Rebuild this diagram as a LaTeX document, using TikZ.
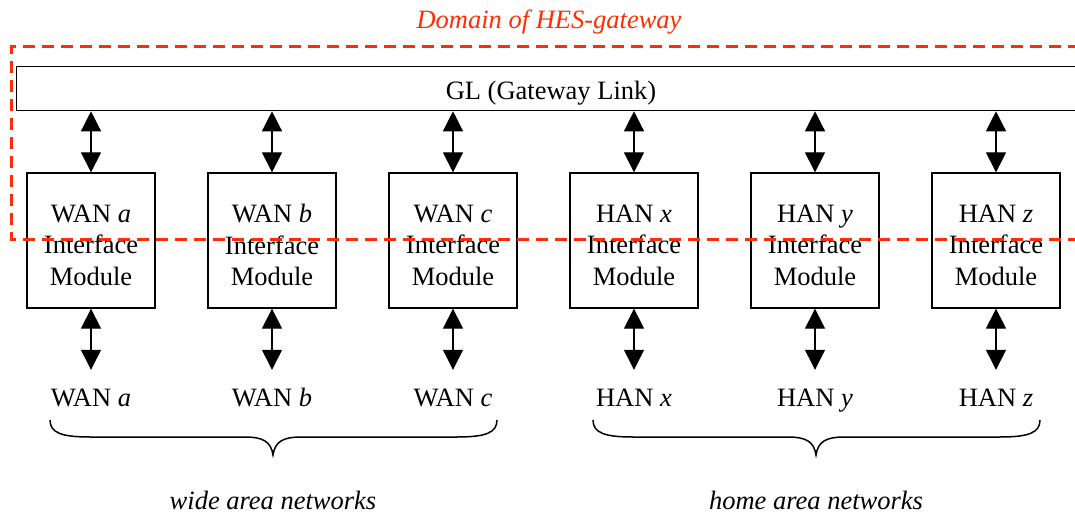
\documentclass[tikz,border=0pt]{standalone}
\usepackage{fontspec}
\setmainfont{Liberation Serif}
\usetikzlibrary{arrows.meta}
\definecolor{domred}{RGB}{255,45,0}
\begin{document}
\begin{tikzpicture}[x=1pt,y=-1pt,
  every node/.style={font=\fontsize{26.5}{31.5}\selectfont},
  modbox/.style={draw,line width=1.3pt,minimum width=128pt,minimum height=135pt,inner sep=0pt},
  modtext/.style={align=center,inner sep=0pt},
  netlab/.style={inner sep=0pt,text height=18pt,text depth=5pt},
  link/.style={line width=1.3pt,{Triangle[width=20pt,length=20pt]}-{Triangle[width=20pt,length=20pt]}},
  domline/.style={draw=domred,line width=3pt,dash pattern=on 12pt off 7pt},
  brc/.style={line width=1.5pt}]
\useasboundingbox (0,0) rectangle (1075,513);
% gateway link
\node[draw,line width=1.3pt,anchor=north west,minimum width=1080pt,minimum height=44pt,inner sep=0pt] (gl) at (16,66) {};
\node at (551,93) (gltext) {GL (Gateway Link)};
% modules
\foreach \i/\x/\n/\v in {1/91/WAN/a,2/272/WAN/b,3/453/WAN/c,4/634/HAN/x,5/815/HAN/y,6/996/HAN/z}{
  \node[modbox] (m\i) at (\x,240.5) {};
  \node[modtext] (t\i) at (\x,245) {\n\ \textit{\v}\\Interface\\Module};
  \node[netlab,anchor=base] (l\i) at (\x,406) {\n\ \textit{\v}};
  \draw[link] (gl.south -| m\i.north) -- (m\i.north);
  \draw[link,shorten >=18pt] (m\i.south) -- (l\i.north);
}
% domain
\draw[domline] (1080,47) -- (11,47) -- (11,239) -- (1080,239);
\node[text=domred,font=\fontsize{26.5}{31.5}\selectfont\itshape] (dom) at (549,22) {Domain of HES-gateway};
% braces
\draw[brc] (50,420) .. controls (50,433) and (62,437) .. (90,437) -- (245,437) .. controls (262,437) and (271,441) .. (273,455) .. controls (275,441) and (284,437) .. (301,437) -- (457,437) .. controls (485,437) and (497,433) .. (497,420);
\draw[brc] (593,420) .. controls (593,433) and (605,437) .. (633,437) -- (788,437) .. controls (805,437) and (814,441) .. (816,455) .. controls (818,441) and (827,437) .. (844,437) -- (1000,437) .. controls (1028,437) and (1040,433) .. (1040,420);
\node[font=\fontsize{26.5}{31.5}\selectfont\itshape] (wan) at (273,500) {wide area networks};
\node[font=\fontsize{26.5}{31.5}\selectfont\itshape] (han) at (816,500) {home area networks};
\end{tikzpicture}
\end{document}
